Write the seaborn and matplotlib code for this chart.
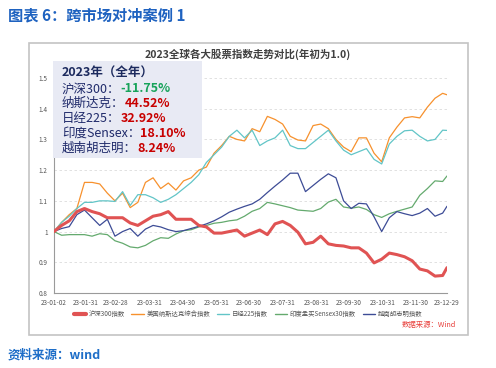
import pandas as pd
import matplotlib
matplotlib.use('Agg')
import matplotlib.pyplot as plt
import seaborn as sns
from matplotlib.lines import Line2D
from matplotlib.patches import Rectangle

# weekly readings, first trading day = 1.0
dates = list(pd.date_range('2023-01-02', periods=52, freq='7D')) + [pd.Timestamp('2023-12-29')]

csi300 = [1.0, 1.02, 1.035, 1.065, 1.075, 1.065, 1.058, 1.045, 1.045, 1.045, 1.028, 1.02, 1.035,
          1.05, 1.055, 1.065, 1.04, 1.04, 1.04, 1.02, 1.015, 0.995, 0.995, 1.0, 1.005, 0.985,
          0.995, 1.005, 0.99, 1.025, 1.033, 1.02, 0.998, 0.96, 0.965, 0.985, 0.96, 0.955, 0.953,
          0.947, 0.947, 0.93, 0.898, 0.91, 0.93, 0.925, 0.918, 0.905, 0.878, 0.872, 0.855, 0.857, 0.8825]
nasdaq = [1.0, 1.03, 1.055, 1.075, 1.16, 1.16, 1.155, 1.125, 1.1, 1.125, 1.078, 1.095, 1.16,
          1.175, 1.14, 1.158, 1.135, 1.165, 1.175, 1.2, 1.21, 1.255, 1.28, 1.31, 1.3, 1.295,
          1.335, 1.325, 1.375, 1.365, 1.35, 1.31, 1.298, 1.295, 1.345, 1.35, 1.335, 1.3, 1.275,
          1.26, 1.305, 1.305, 1.255, 1.227, 1.305, 1.34, 1.37, 1.374, 1.37, 1.405, 1.434, 1.45, 1.4452]
nikkei = [1.0, 1.03, 1.05, 1.075, 1.095, 1.095, 1.1, 1.1, 1.098, 1.13, 1.085, 1.12, 1.12,
          1.11, 1.095, 1.105, 1.12, 1.14, 1.16, 1.185, 1.225, 1.25, 1.275, 1.31, 1.33, 1.305,
          1.33, 1.28, 1.295, 1.305, 1.33, 1.28, 1.27, 1.27, 1.29, 1.31, 1.33, 1.295, 1.265,
          1.25, 1.26, 1.27, 1.235, 1.22, 1.285, 1.31, 1.328, 1.33, 1.31, 1.295, 1.3, 1.33, 1.3292]
sensex = [1.0, 0.988, 0.99, 0.99, 0.99, 0.985, 0.993, 0.99, 0.97, 0.962, 0.95, 0.947, 0.955,
          0.97, 0.98, 0.978, 0.992, 1.003, 1.006, 1.015, 1.02, 1.027, 1.03, 1.035, 1.038, 1.05,
          1.066, 1.075, 1.095, 1.09, 1.084, 1.078, 1.07, 1.068, 1.066, 1.075, 1.096, 1.105, 1.08,
          1.076, 1.08, 1.072, 1.055, 1.046, 1.058, 1.066, 1.073, 1.08, 1.118, 1.14, 1.165, 1.163, 1.181]
vnindex = [1.0, 1.01, 1.016, 1.055, 1.07, 1.045, 1.02, 1.04, 0.985, 1.0, 1.01, 0.985, 1.008,
           1.02, 1.015, 1.006, 1.0, 1.003, 1.01, 1.017, 1.025, 1.035, 1.048, 1.063, 1.073, 1.082,
           1.09, 1.105, 1.127, 1.148, 1.168, 1.19, 1.19, 1.13, 1.15, 1.17, 1.188, 1.175, 1.1,
           1.075, 1.092, 1.09, 1.048, 1.0, 1.045, 1.065, 1.058, 1.052, 1.06, 1.075, 1.05, 1.06, 1.0824]

series_names = ['沪深300指数', '美国纳斯达克综合指数', '日经225指数', '印度孟买Sensex30指数', '越南胡志明指数']
series_values = [csi300, nasdaq, nikkei, sensex, vnindex]
series_colors = ['#e05353', '#f7912d', '#62c5c7', '#64aa6e', '#3d4c96']
series_widths = [2.2, 0.9, 0.9, 0.9, 0.9]

tick_dates = ['2023-01-02', '2023-01-31', '2023-02-28', '2023-03-31', '2023-04-30', '2023-05-31',
              '2023-06-30', '2023-07-31', '2023-08-31', '2023-09-30', '2023-10-31', '2023-11-30',
              '2023-12-29']
tick_labels = ['23-01-02', '23-01-31', '23-02-28', '23-03-31', '23-04-30', '23-05-31', '23-06-30',
               '23-07-31', '23-08-31', '23-09-30', '23-10-31', '23-11-30', '23-12-29']
ytick_values = [0.8, 0.9, 1.0, 1.1, 1.2, 1.3, 1.4, 1.5]
ytick_labels = ['0.8', '0.9', '1', '1.1', '1.2', '1.3', '1.4', '1.5']

summary_title = '2023年（全年）'
summary_labels = ['沪深300：', '纳斯达克：', '日经225：', '印度Sensex：', '越南胡志明：']
summary_values = ['-11.75%', '44.52%', '32.92%', '18.10%', '8.24%']
summary_colors = ['#17a35a', '#c80000', '#c80000', '#c80000', '#c80000']

sns.set_style('white')
plt.rcParams['font.family'] = ['Noto Sans CJK SC', 'DejaVu Sans']
plt.rcParams['axes.unicode_minus'] = False

W, H = 496, 368
fig = plt.figure(figsize=(W / 100, H / 100), dpi=100)


def fx(px):
    return px / W


def fy(py):
    return 1 - py / H


ax = fig.add_axes([fx(54), fy(293), fx(393), (293 - 62.6) / H])

df = pd.DataFrame({'date': dates})
for name, vals in zip(series_names, series_values):
    df[name] = vals
long_df = df.melt(id_vars='date', var_name='指数', value_name='value')

# red (CSI 300) drawn last so it sits on top
for i in [1, 2, 3, 4, 0]:
    sub = long_df[long_df['指数'] == series_names[i]]
    sns.lineplot(data=sub, x='date', y='value', ax=ax, color=series_colors[i],
                 lw=series_widths[i], legend=False, zorder=3 if i == 0 else 2)

ax.set_xlim(pd.Timestamp('2023-01-02'), pd.Timestamp('2023-12-29'))
ax.set_ylim(0.8, 1.55)
ax.set_xticks(pd.to_datetime(tick_dates))
ax.set_xticklabels(tick_labels)
ax.set_yticks(ytick_values)
ax.set_yticklabels(ytick_labels)
ax.set_xlabel('')
ax.set_ylabel('')
ax.tick_params(axis='both', labelsize=4.6, labelcolor='#555555', color='#999999',
               length=3, width=0.6, pad=1.5)
ax.yaxis.grid(True, ls=(0, (3, 3)), color='#dcdcdc', lw=0.6)
ax.xaxis.grid(False)
for side in ['top', 'right']:
    ax.spines[side].set_visible(False)
for side in ['left', 'bottom']:
    ax.spines[side].set_color('#9a9a9a')
    ax.spines[side].set_linewidth(0.8)

# outer frame of the chart
fig.add_artist(Rectangle((fx(29), fy(335)), fx(439), 292 / H, transform=fig.transFigure,
                         fill=False, ec='#c4c4c4', lw=1.2))

fig.text(fx(8), fy(15), '图表 6：跨市场对冲案例 1', fontsize=11, fontweight='bold',
         color='#1e62c0', va='center')
fig.text(fx(248), fy(54), '2023全球各大股票指数走势对比(年初为1.0)', fontsize=7.6,
         fontweight='bold', color='#404040', ha='center', va='center')
fig.text(fx(8), fy(355), '资料来源：wind', fontsize=9, fontweight='bold',
         color='#1e6ec8', va='center')
fig.text(fx(456), fy(325), '数据来源：Wind', fontsize=5.3, color='#e8403c',
         ha='right', va='center')

handles = [Line2D([], [], color=c, lw=(3.0 if i == 0 else 1.0))
           for i, c in enumerate(series_colors)]
fig.legend(handles, series_names, loc='center', bbox_to_anchor=(0.5, fy(314)), ncol=5,
           frameon=False, fontsize=4.6, handlelength=1.9, handletextpad=0.5,
           columnspacing=1.0, labelcolor='#555555')

# summary box over the top-left of the plot
fig.add_artist(Rectangle((fx(53), fy(158)), fx(149), 97 / H, transform=fig.transFigure,
                         fc='#e8eaf4', ec='none', zorder=5))
fig.text(fx(62), fy(73), summary_title, fontsize=9, fontweight='bold', color='#1c2a5e',
         va='center', zorder=6)
label_ys = [89, 103.5, 118.5, 133.5, 148]
labels = []
for lab, y in zip(summary_labels, label_ys):
    labels.append(fig.text(fx(62), fy(y), lab, fontsize=9, color='#1f2a6a', va='center', zorder=6))
fig.canvas.draw()
renderer = fig.canvas.get_renderer()
for t, val, col, y in zip(labels, summary_values, summary_colors, label_ys):
    bb = t.get_window_extent(renderer)
    fig.text(bb.x1 / W, fy(y), val, fontsize=9, fontweight='bold', color=col,
             va='center', zorder=6)

fig.savefig('out.png', dpi=100)
